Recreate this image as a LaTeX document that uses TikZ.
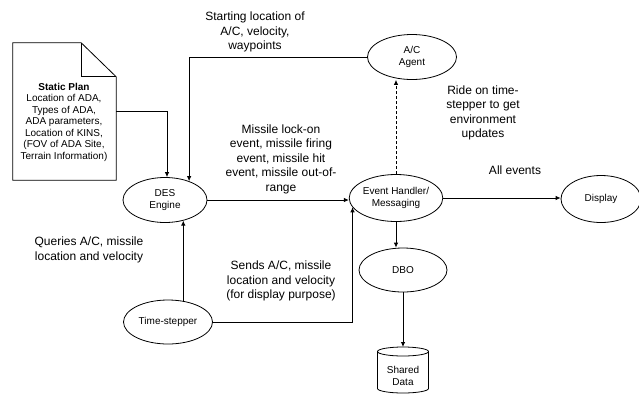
\documentclass[tikz,border=0pt]{standalone}
\usepackage{fontspec}
\setmainfont{Liberation Sans}
\usetikzlibrary{shapes.geometric,arrows.meta,calc}
\tikzset{
  proc/.style={ellipse,draw,line width=0.8pt,inner sep=0pt,align=center,
    font=\fontsize{10}{11.5}\selectfont},
  lbl/.style={align=center,inner sep=0pt,font=\fontsize{12}{14.5}\selectfont},
  arr/.style={line width=0.8pt,-{Latex[length=5pt,width=4.5pt]}}
}
\begin{document}
\begin{tikzpicture}[x=1pt,y=-1pt]
  \useasboundingbox (0,0) rectangle (639,394);
  \node (plan) [minimum width=103pt,minimum height=137pt,inner sep=0pt] at (64.5,111.5) {};
  \draw[line width=0.8pt] (plan.north west) -- ($(plan.north east)+(-35,0)$)
    -- ($(plan.north east)+(0,34)$) -- (plan.south east) -- (plan.south west) -- cycle;
  \draw[line width=0.8pt] ($(plan.north east)+(-35,0)$) -- ($(plan.north east)+(-35,34)$)
    -- ($(plan.north east)+(0,34)$);
  \node (plantext) [align=center,inner sep=0pt,font=\fontsize{10}{11.5}\selectfont] at (64,122)
    {\textbf{Static Plan}\\Location of ADA,\\Types of ADA,\\ADA parameters,\\Location of KINS,\\(FOV of ADA Site,\\Terrain Information)};
  \draw
    (165,200) node[proc,minimum width=84pt,minimum height=45pt] (des){DES\\Engine}
    (396,198) node[proc,minimum width=91pt,minimum height=47pt] (eh){Event Handler/\\Messaging}
    (412,57) node[proc,minimum width=89pt,minimum height=45pt] (agent){A/C\\Agent}
    (601,199) node[proc,minimum width=80pt,minimum height=47pt] (disp){Display}
    (403,270) node[proc,minimum width=88pt,minimum height=44pt] (dbo){DBO}
    (168,322) node[proc,minimum width=89pt,minimum height=44pt] (ts){Time-stepper};
  \node (data) [align=center,inner sep=0pt,font=\fontsize{10}{11.5}\selectfont] at (403,376) {Shared\\Data};
  \draw[line width=0.8pt] (403,351.5) ellipse [x radius=25.5,y radius=4.5];
  \draw[line width=0.8pt] (377.5,351.5) -- (377.5,388.5)
    arc[start angle=180,end angle=0,x radius=25.5,y radius=4.5] -- (428.5,351.5);
  \coordinate (datatop) at (403,347);
  \node[lbl] (startlbl) at (255,32) {Starting location of\\A/C, velocity,\\waypoints};
  \node[lbl] (eventlbl) at (281,159) {Missile lock-on\\event, missile firing\\event, missile hit\\event, missile out-of-\\range};
  \node[lbl] (ridelbl) at (483,113) {Ride on time-\\stepper to get\\environment\\updates};
  \node[lbl] (alllbl) at (515,170) {All events};
  \node[lbl] (querylbl) at (89,250) {Queries A/C, missile\\location and velocity};
  \node[lbl] (sendlbl) at (281,281) {Sends A/C, missile\\location and velocity\\(for display purpose)};
  \begin{scope}[arr]
    \draw (plan.east) -| (des.85);
    \draw (agent.west) -| (des.38);
    \draw (ts.54) -- (ts.54 |- des.-48);
    \draw (des) -- (des -| eh.west);
    \draw (ts.east) -| (eh.192);
    \draw[dash pattern=on 3pt off 2pt] (eh.north) -- (eh.north |- agent.south);
    \draw (eh) -- (eh -| disp.west);
    \draw (eh.south) -- (eh.south |- dbo.north);
    \draw (dbo.south) -- (datatop);
  \end{scope}
\end{tikzpicture}
\end{document}
